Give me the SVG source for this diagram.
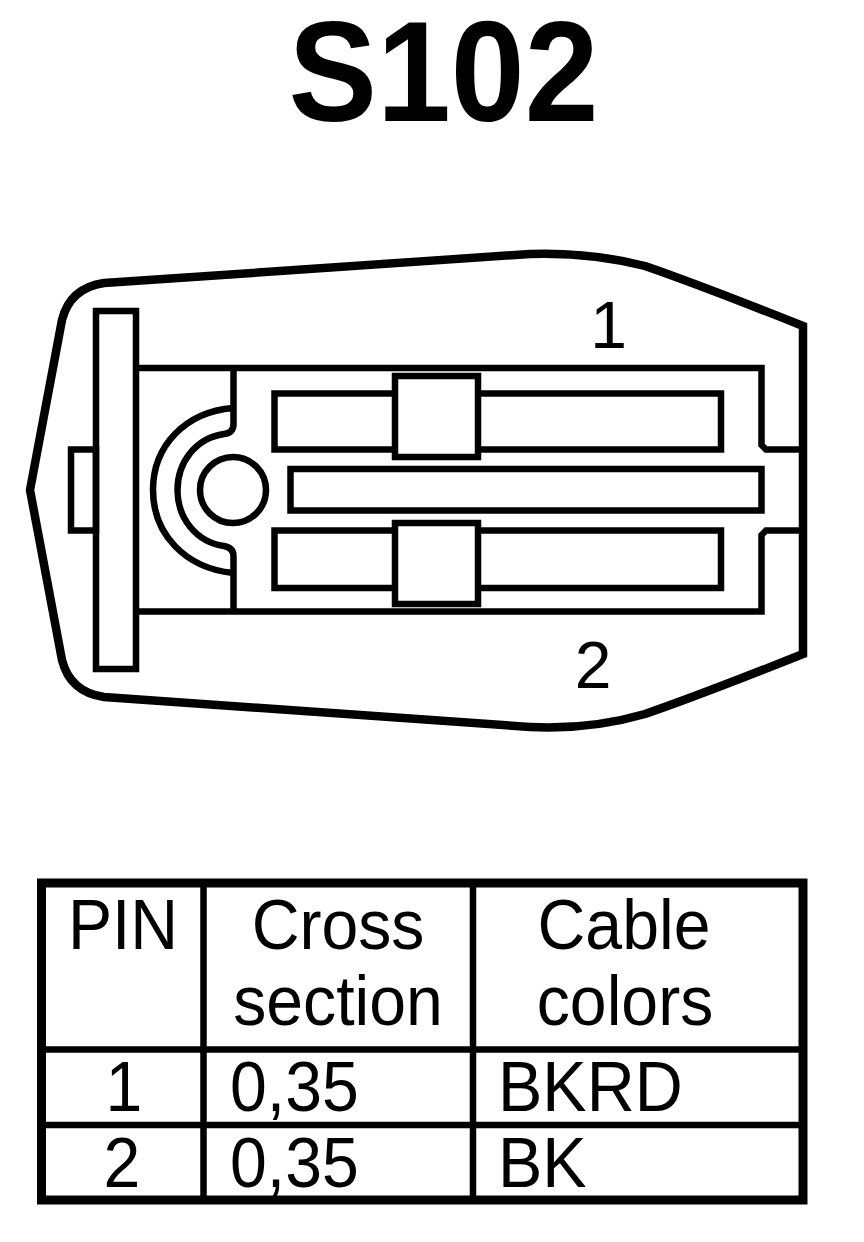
<svg xmlns="http://www.w3.org/2000/svg" width="864" height="1242" viewBox="0 0 864 1242">
<style>
.o{fill:none;stroke:#000;stroke-width:6.500}
.w{fill:#fff;stroke:#000;stroke-width:6.500}
.t{font-family:"Liberation Sans",Arial,sans-serif;font-size:70px;fill:#000}
.m{text-anchor:middle}
.g{fill:none;stroke:#000;stroke-width:8.500}
</style>
<rect width="864" height="1242" fill="#fff"/>
<text transform="translate(443.500 121) scale(.935 1)" text-anchor="middle" style="font-family:'Liberation Sans',Arial,sans-serif;font-weight:bold;font-size:142px">S102</text>
<g id="connector">
<path class="g" d="M104 283 L530 254 Q590 252 645 266 Q700 285 803 326 L803 654 Q700 695 645 714 Q590 730 530 727 L104 697 Q70 692 62 660 L30 490 L62 320 Q70 288 104 283 Z"/>
<rect class="o" x="96" y="311" width="40" height="358"/>
<rect class="o" x="71" y="449.500" width="25" height="81"/>
<path class="o" d="M136 368 H761.500 V445 L766 449.500 H803"/>
<path class="o" d="M136 611.500 H761.500 V535 L766 530.500 H803"/>
<path class="o" d="M233.500 368 V424 Q233.500 433 224 434 C196 438 177.500 462 177.500 490 C177.500 518 196 542 224 546 Q233.500 548 233.500 556 V611.500"/>
<path class="o" d="M233 408 C185 412 153 446 153 490 C153 534 185 568 233 573"/>
<circle class="o" cx="233" cy="490" r="33"/>
<rect class="o" x="274.500" y="393.500" width="446.500" height="56"/>
<rect class="o" x="274.500" y="530.500" width="446.500" height="57.500"/>
<rect class="o" x="290.500" y="469" width="471" height="41.500"/>
<rect class="w" x="395" y="376" width="83" height="81"/>
<rect class="w" x="395" y="523" width="83" height="81"/>
<text x="608.500" y="348" class="m" style="font-family:'Liberation Sans',Arial,sans-serif;font-size:66px">1</text>
<text x="593" y="688" class="m" style="font-family:'Liberation Sans',Arial,sans-serif;font-size:66px">2</text>
</g>
<g id="table">
<rect x="41.500" y="883" width="761.500" height="317" fill="none" stroke="#000" stroke-width="9"/>
<path d="M41 1049.500 H803 M41 1125 H803 M203.500 883 V1200 M473 883 V1200" fill="none" stroke="#000" stroke-width="6.500"/>
<text transform="translate(123 949) scale(.945 1)" class="t m">PIN</text>
<text transform="translate(338 949) scale(.945 1)" class="t m">Cross</text>
<text transform="translate(338 1025) scale(.945 1)" class="t m">section</text>
<text transform="translate(624 949) scale(.945 1)" class="t m">Cable</text>
<text transform="translate(625 1025) scale(.945 1)" class="t m">colors</text>
<text transform="translate(124 1111) scale(.945 1)" class="t m">1</text>
<text transform="translate(230 1111) scale(.945 1)" class="t">0,35</text>
<text transform="translate(498 1111) scale(.950 1)" class="t">BKRD</text>
<text transform="translate(122 1187) scale(.945 1)" class="t m">2</text>
<text transform="translate(230 1187) scale(.945 1)" class="t">0,35</text>
<text transform="translate(498 1187) scale(.950 1)" class="t">BK</text>
</g>
</svg>
